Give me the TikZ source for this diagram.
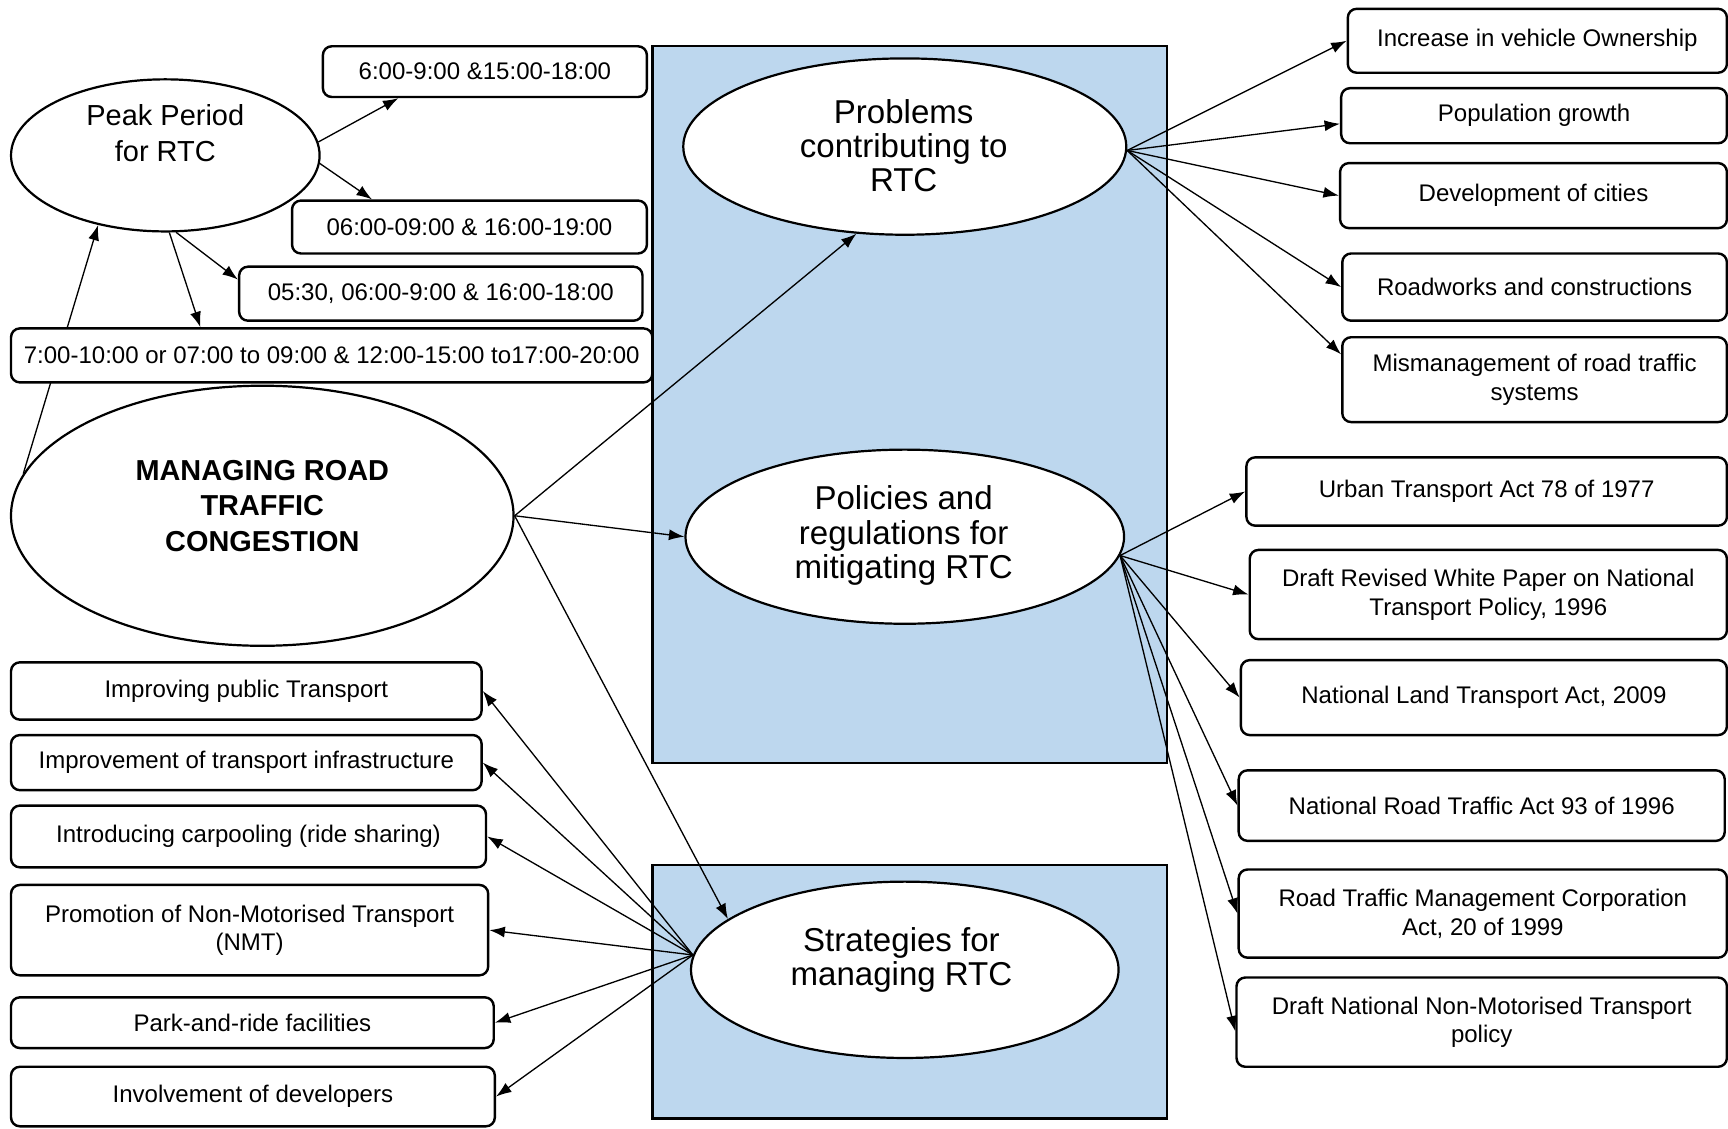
\documentclass[tikz,border=0pt]{standalone}
\usepackage{fontspec}
\setmainfont{Liberation Sans}
\usetikzlibrary{arrows.meta,calc,shapes.geometric}
\definecolor{panelblue}{RGB}{189,215,238}
\pgfdeclarelayer{panels}
\pgfdeclarelayer{links}
\pgfsetlayers{panels,links,main}

\begin{document}
\begin{tikzpicture}[x=1pt,y=-1pt,
  box/.style={draw, rounded corners=8pt, line width=2.2pt, fill=white,
    inner sep=0pt, align=center, font=\fontsize{21.8}{26}\selectfont},
  oval/.style={ellipse, draw, line width=2pt, fill=white, inner sep=0pt},
  title/.style={align=center, font=\fontsize{30}{31}\selectfont},
  link/.style={line width=1.2pt, -{Latex[length=14pt,width=10pt]}},
  panel/.style={draw, line width=2pt, fill=panelblue}]

\useasboundingbox (0,0) rectangle (1568,1024);

% ---- peak period ----
\node[oval, minimum width=280, minimum height=138] (peak) at (150,141) {};
\node[align=center, font=\fontsize{26.3}{33}\selectfont] (peakt) at (150,121) {Peak Period\\for RTC};
\node[box, minimum width=294, minimum height=46] (b1) at (440,65) {6:00-9:00 \&15:00-18:00};
\node[box, minimum width=322, minimum height=48] (b2) at (426,206) {06:00-09:00 \& 16:00-19:00};
\node[box, minimum width=366, minimum height=49] (b3) at (400,266.5) {05:30, 06:00-9:00 \& 16:00-18:00};
\node[box, minimum width=582, minimum height=49] (b4) at (301,322.5) {7:00-10:00 or 07:00 to 09:00 \& 12:00-15:00 to17:00-20:00};

% ---- central topic ----
\node[oval, minimum width=456, minimum height=236] (mng) at (238,468) {};
\node[align=center, font=\fontsize{26.2}{32}\selectfont\bfseries] (mngt) at (238,459) {MANAGING ROAD\\TRAFFIC\\CONGESTION};

% ---- strategies (left column) ----
\node[box, minimum width=427, minimum height=52] (ipt) at (223.5,627) {Improving public Transport};
\node[box, minimum width=427, minimum height=50] (iti) at (223.5,692) {Improvement of transport infrastructure};
\node[box, minimum width=431, minimum height=56] (car) at (225.5,759) {Introducing carpooling (ride sharing)};
\node[box, minimum width=433, minimum height=82] (nmt) at (226.5,844) {Promotion of Non-Motorised Transport\\(NMT)};
\node[box, minimum width=438, minimum height=46] (prk) at (229,928) {Park-and-ride facilities};
\node[box, minimum width=439, minimum height=54] (inv) at (229.5,995) {Involvement of developers};

% ---- blue panels with the three themes ----
\begin{pgfonlayer}{panels}
  \draw[panel] (592,42) rectangle (1059,692);
  \draw[panel] (592,785) rectangle (1059,1015);
\end{pgfonlayer}
\node[oval, minimum width=402, minimum height=160] (prob) at (821,133) {};
\node[title] (probt) at (820,132) {Problems\\contributing to\\RTC};
\node[oval, minimum width=398, minimum height=158] (pol) at (821,487) {};
\node[title] (polt) at (820,486) {Policies and\\regulations for\\mitigating RTC};
\node[oval, minimum width=388, minimum height=160] (strat) at (821,880) {};
\node[title] (stratt) at (818,871) {Strategies for\\managing RTC};

% ---- problems (right, top) ----
\node[box, minimum width=344, minimum height=58] (inc) at (1395,37) {Increase in vehicle Ownership};
\node[box, minimum width=350, minimum height=50] (pop) at (1392,105) {Population growth};
\node[box, minimum width=351, minimum height=59] (dev) at (1391.5,177.5) {Development of cities};
\node[box, minimum width=349, minimum height=61] (road) at (1392.5,260.5) {Roadworks and constructions};
\node[box, minimum width=349, minimum height=77] (mis) at (1392.5,344.5) {Mismanagement of road traffic\\systems};

% ---- policies (right, bottom) ----
\node[box, minimum width=436, minimum height=62] (urb) at (1349,446) {Urban Transport Act 78 of 1977};
\node[box, minimum width=433, minimum height=81] (drw) at (1350.5,539.5) {Draft Revised White Paper on National\\Transport Policy, 1996};
\node[box, minimum width=441, minimum height=68] (nlt) at (1346.5,633) {National Land Transport Act, 2009};
\node[box, minimum width=441, minimum height=64] (nrt) at (1344.5,731) {National Road Traffic Act 93 of 1996};
\node[box, minimum width=443, minimum height=80] (rtm) at (1345.5,829) {Road Traffic Management Corporation\\Act, 20 of 1999};
\node[box, minimum width=445, minimum height=81] (dnm) at (1344.5,927.5) {Draft National Non-Motorised Transport\\policy};

% ---- connectors ----
\begin{pgfonlayer}{links}
  \draw[link] (peak.5) -- ($(b1.south west)!0.235!(b1.south east)$);
  \draw[link] (peak.-3) -- ($(b2.north west)!0.227!(b2.north east)$);
  \draw[link] (peak.278) -- ($(b3.north west)!0.25!(b3.south west)$);
  \draw[link] (peak.273) -- ($(b4.north west)!0.296!(b4.north east)$);
  \draw[link] (mng.170) -- (peak.226);

  \draw[link] (mng.east) -- (prob.241);
  \draw[link] (mng.east) -- (pol.west);
  \draw[link] (mng.east) -- (strat.164);

  \coordinate (pf) at (prob.-1);
  \draw[link] (pf) -- (inc.west);
  \draw[link] (pf) -- ($(pop.north west)!0.64!(pop.south west)$);
  \draw[link] (pf) -- (dev.west);
  \draw[link] (pf) -- (road.west);
  \draw[link] (pf) -- ($(mis.north west)!0.21!(mis.south west)$);

  \coordinate (lf) at (pol.-5);
  \draw[link] (lf) -- (urb.west);
  \draw[link] (lf) -- (drw.west);
  \draw[link] (lf) -- (nlt.west);
  \draw[link] (lf) -- (nrt.west);
  \draw[link] (lf) -- (rtm.west);
  \draw[link] (lf) -- ($(dnm.north west)!0.6!(dnm.south west)$);

  \coordinate (sf) at (strat.176);
  \draw[link] (sf) -- (ipt.east);
  \draw[link] (sf) -- (iti.east);
  \draw[link] (sf) -- (car.east);
  \draw[link] (sf) -- (nmt.east);
  \draw[link] (sf) -- (prk.east);
  \draw[link] (sf) -- (inv.east);
\end{pgfonlayer}
\end{tikzpicture}
\end{document}
